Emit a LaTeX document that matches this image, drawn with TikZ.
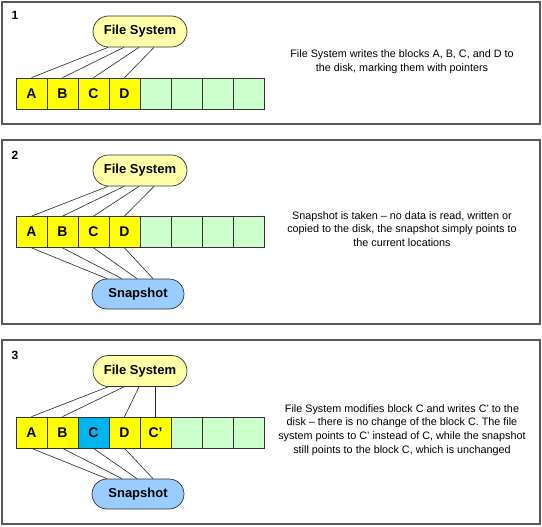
\documentclass[tikz,border=0pt]{standalone}
\usepackage{fontspec}
\setmainfont{Liberation Sans}
\usetikzlibrary{calc,shapes.misc}
\definecolor{blkyellow}{HTML}{FFFF00}
\definecolor{blkgreen}{HTML}{CCFFCC}
\definecolor{blkcyan}{HTML}{00B4F0}
\definecolor{fsfill}{HTML}{FFFFA8}
\definecolor{snapfill}{HTML}{99CCFF}
\definecolor{panelgray}{HTML}{585858}
\tikzset{
  panel/.style={draw=panelgray, line width=1.4pt},
  blk/.style={draw=black!80, line width=0.7pt, minimum width=31pt, minimum height=31pt, inner sep=0pt, font=\fontsize{14}{16}\selectfont\bfseries},
  yblk/.style={blk, fill=blkyellow},
  gblk/.style={blk, fill=blkgreen},
  cblk/.style={blk, fill=blkcyan},
  pill/.style={rounded rectangle, draw=black!80, line width=0.7pt, inner sep=0pt, font=\fontsize{13}{15}\selectfont\bfseries},
  fsnode/.style={pill, fill=fsfill, minimum width=94pt, minimum height=31pt},
  snapnode/.style={pill, fill=snapfill, minimum width=92pt, minimum height=30pt},
  ptr/.style={draw=black!85, line width=0.6pt},
  desc/.style={align=center, font=\fontsize{10.8}{13.8}\selectfont, inner sep=0pt},
  num/.style={font=\fontsize{12}{14}\selectfont\bfseries, inner sep=0pt}
}
\begin{document}
\begin{tikzpicture}[x=1pt,y=-1pt]
\useasboundingbox (0,0) rectangle (542,527);
\fill[white] (0,0) rectangle (542,527);
% ---------- Panel 1 ----------
\draw[panel] (2,2) rectangle (540,124);
\node[num] (n1) at (15,15) {1};
\node[fsnode] (fs1) at (140,31.5) {File System};
\node[yblk] (a1) at (31.5,93.5) {A};
\node[yblk] (b1) at (62.5,93.5) {B};
\node[yblk] (c1) at (93.5,93.5) {C};
\node[yblk] (d1) at (124.5,93.5) {D};
\node[gblk] (e1) at (155.5,93.5) {};
\node[gblk] (f1) at (186.5,93.5) {};
\node[gblk] (g1) at (217.5,93.5) {};
\node[gblk] (h1) at (248.5,93.5) {};
\draw[ptr] ($(fs1.south)+(-32,0)$) -- (a1.north);
\draw[ptr] ($(fs1.south)+(-16,0)$) -- (b1.north);
\draw[ptr] ($(fs1.south)+(-1,0)$) -- (c1.north);
\draw[ptr] ($(fs1.south)+(14,0)$) -- (d1.north);
\node[desc] (t1) at (402,62) {File System writes the blocks A, B, C, and D to\\the disk, marking them with pointers};
% ---------- Panel 2 ----------
\draw[panel] (2,140) rectangle (540,324);
\node[num] (n2) at (15,155) {2};
\node[fsnode] (fs2) at (140,170.5) {File System};
\node[yblk] (a2) at (31.5,232) {A};
\node[yblk] (b2) at (62.5,232) {B};
\node[yblk] (c2) at (93.5,232) {C};
\node[yblk] (d2) at (124.5,232) {D};
\node[gblk] (e2) at (155.5,232) {};
\node[gblk] (f2) at (186.5,232) {};
\node[gblk] (g2) at (217.5,232) {};
\node[gblk] (h2) at (248.5,232) {};
\node[snapnode] (s2) at (138,294) {Snapshot};
\draw[ptr] ($(fs2.south)+(-32,0)$) -- (a2.north);
\draw[ptr] ($(fs2.south)+(-16,0)$) -- (b2.north);
\draw[ptr] ($(fs2.south)+(-1,0)$) -- (c2.north);
\draw[ptr] ($(fs2.south)+(14,0)$) -- (d2.north);
\draw[ptr] (a2.south) -- ($(s2.north)+(-31,0)$);
\draw[ptr] (b2.south) -- ($(s2.north)+(-16,0)$);
\draw[ptr] (c2.south) -- ($(s2.north)+(-1,0)$);
\draw[ptr] (d2.south) -- ($(s2.north)+(15,0)$);
\node[desc] (t2) at (402,229) {Snapshot is taken -- no data is read, written or\\copied to the disk, the snapshot simply points to\\the current locations};
% ---------- Panel 3 ----------
\draw[panel] (2,340) rectangle (540,524);
\node[num] (n3) at (15,355) {3};
\node[fsnode] (fs3) at (140,371) {File System};
\node[yblk] (a3) at (31.5,432.5) {A};
\node[yblk] (b3) at (62.5,432.5) {B};
\node[cblk] (c3) at (93.5,432.5) {C};
\node[yblk] (d3) at (124.5,432.5) {D};
\node[yblk] (cp3) at (155.5,432.5) {C’};
\node[gblk] (f3) at (186.5,432.5) {};
\node[gblk] (g3) at (217.5,432.5) {};
\node[gblk] (h3) at (248.5,432.5) {};
\node[snapnode] (s3) at (138,494) {Snapshot};
\draw[ptr] ($(fs3.south)+(-32,0)$) -- (a3.north);
\draw[ptr] ($(fs3.south)+(-16,0)$) -- (b3.north);
\draw[ptr] ($(fs3.south)+(-1,0)$) -- (d3.north);
\draw[ptr] ($(fs3.south)+(15.5,0)$) -- (cp3.north);
\draw[ptr] (a3.south) -- ($(s3.north)+(-31,0)$);
\draw[ptr] (b3.south) -- ($(s3.north)+(-16,0)$);
\draw[ptr] (c3.south) -- ($(s3.north)+(-1,0)$);
\draw[ptr] (d3.south) -- ($(s3.north)+(15,0)$);
\node[desc] (t3) at (402,430) {File System modifies block C and writes C’ to the\\disk -- there is no change of the block C. The file\\system points to C’ instead of C, while the snapshot\\still points to the block C, which is unchanged};
\end{tikzpicture}
\end{document}
